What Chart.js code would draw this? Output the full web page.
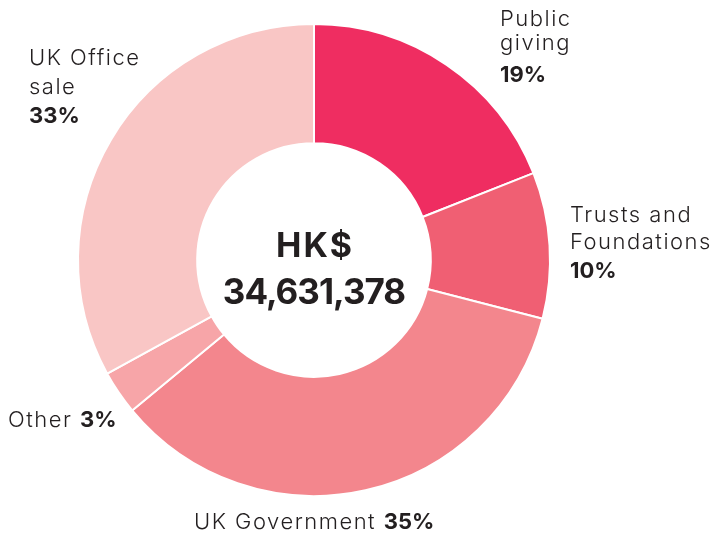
<!DOCTYPE html>
<html>
<head>
<meta charset="utf-8">
<script src="https://cdn.jsdelivr.net/npm/chart.js@4"></script>
<style>
html,body{margin:0;padding:0;background:#fff;}
#wrap{width:718px;height:535px;position:relative;}
</style>
</head>
<body>
<div id="wrap"><canvas id="c" width="718" height="535"></canvas></div>
<script>
const categories = ["Public giving", "Trusts and Foundations", "UK Government", "Other", "UK Office sale"];
const values = [19, 10, 35, 3, 33];
const colors = ["#EF2D61", "#F05F73", "#F3868D", "#F7A5A8", "#F9C6C5"];
const centerLines = ["HK$", "34,631,378"];

// label lines: [text parts], each part [string, bold]; y = baselines
const labelLines = [
  { x: 500, y: [26, 50, 82], lines: [[["Public", false]], [["giving", false]], [["19%", true]]] },
  { x: 570, y: [222, 249, 278], lines: [[["Trusts and", false]], [["Foundations", false]], [["10%", true]]] },
  { x: 29,  y: [65, 94, 123], lines: [[["UK Office", false]], [["sale", false]], [["33%", true]]] },
  { x: 8,   y: [427], lines: [[["Other ", false], ["3%", true]]] },
  { x: 194, y: [529], lines: [[["UK Government ", false], ["35%", true]]] }
];

const FONT = "Inter, 'Open Sans', sans-serif";

const labelPlugin = {
  id: 'labels',
  afterDraw(chart) {
    const ctx = chart.ctx;
    const meta = chart.getDatasetMeta(0);
    const arc = meta.data[0];
    const cx = arc.x, cy = arc.y;
    ctx.save();
    ctx.fillStyle = "#231F20";
    ctx.textAlign = "center";
    ctx.textBaseline = "alphabetic";
    ctx.font = "700 34px " + FONT;
    ctx.letterSpacing = "2px";
    ctx.fillText(centerLines[0], cx + 1, cy - 3);
    ctx.font = "700 35px " + FONT;
    ctx.letterSpacing = "-1px";
    ctx.fillText(centerLines[1], cx, cy + 44);
    ctx.textAlign = "left";
    labelLines.forEach(l => {
      l.lines.forEach((parts, i) => {
        let x = l.x;
        parts.forEach(([t, b]) => {
          ctx.font = (b ? "700 " : "300 ") + "22px " + FONT;
          ctx.letterSpacing = b ? "0px" : "1.5px";
          ctx.fillText(t, x, l.y[i]);
          x += ctx.measureText(t).width;
        });
      });
    });
    ctx.restore();
  }
};

new Chart(document.getElementById('c'), {
  type: 'doughnut',
  data: {
    labels: categories,
    datasets: [{
      data: values,
      backgroundColor: colors,
      borderColor: "#ffffff",
      borderWidth: 2
    }]
  },
  options: {
    responsive: false,
    animation: false,
    cutout: '49.5%',
    layout: { padding: { left: 77, right: 167, top: 23, bottom: 38 } },
    plugins: { legend: { display: false }, tooltip: { enabled: false } }
  },
  plugins: [labelPlugin]
});
</script>
</body>
</html>
